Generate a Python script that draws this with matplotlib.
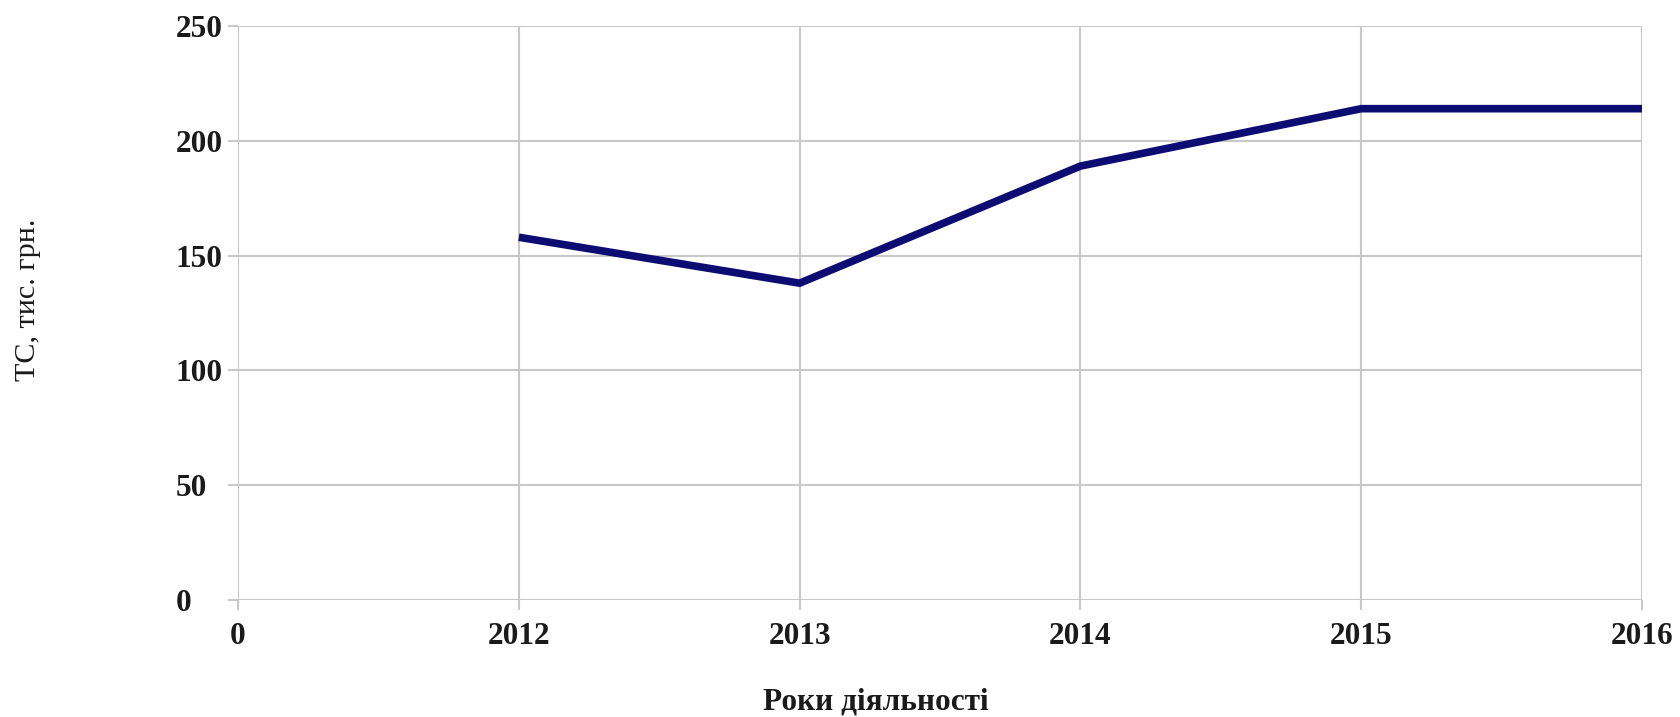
import matplotlib.pyplot as plt

plt.rcParams['font.family'] = ['Liberation Serif', 'DejaVu Serif']

# categories on the x axis (first one is an empty "0" slot)
x_labels = ['0', '2012', '2013', '2014', '2015', '2016']
years = ['2012', '2013', '2014', '2015', '2016']
tc_values = [158, 138, 189, 214, 214]
y_ticks = [0, 50, 100, 150, 200, 250]

fig = plt.figure(figsize=(16.81, 7.17), dpi=100)
ax = fig.add_axes([0.1416, 0.1632, 0.8352, 0.8005])

x_pos = [x_labels.index(y) for y in years]
ax.plot(x_pos, tc_values, color='#0c0c73', lw=5.5, solid_capstyle='butt',
        solid_joinstyle='miter', zorder=3)

ax.set_xlim(0, len(x_labels) - 1)
ax.set_ylim(y_ticks[0], y_ticks[-1])
ax.set_xticks(range(len(x_labels)))
ax.set_xticklabels(x_labels)
ax.set_yticks(y_ticks)

for s in ax.spines.values():
    s.set_visible(False)
ax.grid(True, color='#c8c8c8', lw=1.5)
ax.set_axisbelow(True)
ax.tick_params(axis='both', colors='#c8c8c8', length=7, width=1.5,
               labelcolor='#1a1a1a', labelsize=22.5)
ax.tick_params(axis='x', pad=9)
ax.tick_params(axis='y', pad=38)
for lab in ax.get_xticklabels() + ax.get_yticklabels():
    lab.set_fontweight('bold')
for lab in ax.get_yticklabels():
    lab.set_horizontalalignment('left')

ax.set_xlabel('Роки діяльності', fontsize=22.5, fontweight='bold',
              color='#1a1a1a', va='center')
ax.xaxis.set_label_coords(0.454, -0.1777)
ax.set_ylabel('ТС, тис. грн.', fontsize=21.7, color='#1a1a1a', va='center')
ax.yaxis.set_label_coords(-0.1496, 0.523)

fig.savefig('out.png', dpi=100)
